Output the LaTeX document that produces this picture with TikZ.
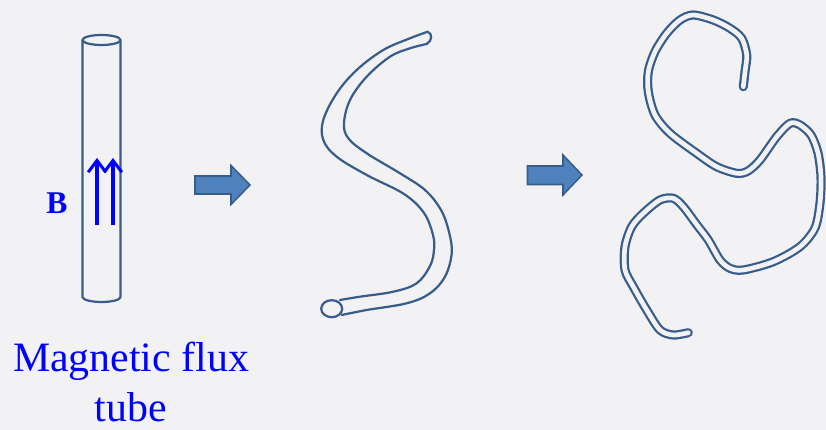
\documentclass[tikz,border=0pt]{standalone}
\usepackage{fontspec}
\setmainfont{Liberation Serif}
\usetikzlibrary{arrows.meta}

\definecolor{tubeline}{HTML}{385D8A}
\definecolor{arrowfill}{HTML}{4F81BD}
\definecolor{arrowedge}{HTML}{385D8A}
\definecolor{paper}{HTML}{F2F2F5}

\tikzset{
  tube/.style={draw=tubeline, line width=1.9pt, line join=round, line cap=round},
  thintube/.style={draw=tubeline, line width=1.9pt, double=paper, double distance=4pt,
    line cap=round, line join=round},
  blockarrow/.style={fill=arrowfill, draw=arrowedge, line width=1.3pt, line join=miter},
  field/.style={draw=blue, line width=2.6pt, -{Straight Barb[length=10pt,width=15pt]}},
  label/.style={text=blue, inner sep=0pt}
}

\begin{document}
\begin{tikzpicture}[x=0.03cm, y=-0.03cm]
  % paper
  \fill[paper] (0,0) rectangle (826,430);
  \useasboundingbox (0,0) rectangle (826,430);

  % straight tube
  \draw[tube] (101.5,40) ellipse[x radius=19, y radius=5];
  \draw[tube] (82.5,40) -- (82.5,297)
    arc[start angle=180, end angle=0, x radius=19, y radius=5] -- (120.5,40);
  \draw[field] (97,225) -- (97,158);
  \draw[field] (113,225) -- (113,158);
  \node[label, font=\bfseries\fontsize{27}{32}\selectfont] (bfield) at (57,203) {B};
  \node[label, align=center, font=\fontsize{35.7}{42.5}\selectfont] (caption) at (131,382)
    {Magnetic flux\\tube};

  % arrows
  \draw[blockarrow] (195,176) -- (231,176) -- (231,165.5) -- (250,185)
    -- (231,204.5) -- (231,194) -- (195,194) -- cycle;
  \draw[blockarrow] (527.5,166) -- (563,166) -- (563,155) -- (582,175)
    -- (563,195) -- (563,184.5) -- (527.5,184.5) -- cycle;

  % bent tube
  \draw[tube] plot[smooth, tension=0.6] coordinates {
    (427.7,31.7) (410,38.3) (383.3,50) (356.7,70) (336.7,93.3) (323.3,120)
    (323.3,140) (336.7,156.7) (366.7,175) (404,194) (424,213) (433,235)
    (434,250) (430,266) (416.7,283.3) (393.3,291.7) (360,296.7) (340,300)};
  \draw[tube] plot[smooth, tension=0.6] coordinates {
    (426.7,44) (410,48.3) (390,56.7) (366.7,76.7) (350,100) (344,123.3)
    (348.3,138.3) (366.7,153.3) (400,173.3) (425,190) (441,210) (449,232)
    (451.7,253.3) (445,276.7) (430,293.3) (406.7,303.3) (366.7,310) (341.7,315)};
  \draw[tube] (427.7,31.7) .. controls (433,34) and (432,41) .. (426.7,44);
  \draw[tube] (331.7,308.7) ellipse[x radius=10.5, y radius=8.5];

  % twisted tube
  \draw[thintube] plot[smooth, tension=0.5] coordinates {
    (743.3,86.7) (745,71.7) (746.7,55) (741.7,38.3) (730,28.3) (713.3,20)
    (693.3,15) (680,20) (666.7,33.3) (655,51.7) (648.3,71.7) (648.3,91.7)
    (655,115) (670,133.3) (696.7,153.3) (716.7,166.7) (736.7,173.3)
    (748,171) (760,160) (776.7,136.7) (790,123.3) (800,125) (811,135)
    (818,153) (821,177) (820,203) (815,228) (800,246.7) (773.3,261.7)
    (743.3,270) (730,268.3) (720,260) (708.3,240) (697,225) (683.3,206.7)
    (673.3,198.3) (660,200) (643.3,213.3) (631.7,226.7) (625,246.7)
    (625,270) (633.3,286.7) (646.7,310) (660,330) (673.3,335) (688.3,332.7)};
\end{tikzpicture}
\end{document}
